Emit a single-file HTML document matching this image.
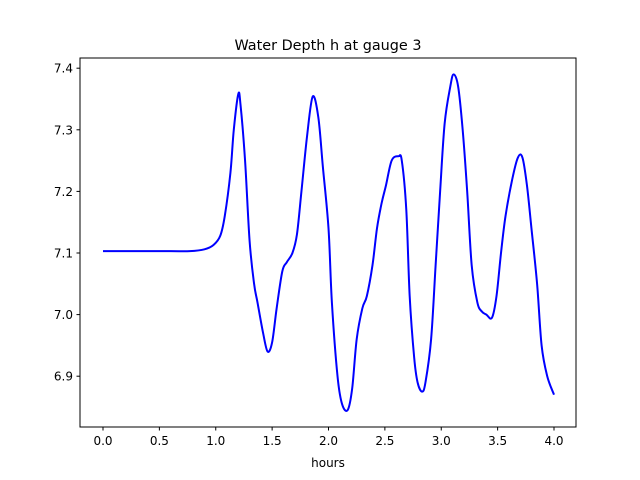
<!DOCTYPE html>
<html><head><meta charset="utf-8"><style>
body{margin:0;background:#fff}
svg{display:block;font-family:"DejaVu Sans","Liberation Sans",sans-serif}
</style></head><body>
<svg id="chart" width="640" height="480">
<rect width="640" height="480" fill="#fff"/>
<text x="328" y="50" text-anchor="middle" font-size="14.4">Water Depth h at gauge 3</text>
<g id="ticks"></g>
<path id="line" fill="none" stroke="#0000ff" stroke-width="2" stroke-linejoin="round"/>
<rect x="80" y="58" width="496" height="369" fill="none" stroke="#000" stroke-width="1"/>
<text x="328" y="467" text-anchor="middle" font-size="12">hours</text>
</svg>
<script>
const times=[0,0.3,0.6,0.77,0.9,0.98,1.04,1.08,1.13,1.16,1.20,1.22,1.26,1.30,1.34,1.37,1.42,1.46,1.50,1.54,1.59,1.63,1.68,1.72,1.76,1.81,1.86,1.91,1.95,2.0,2.03,2.08,2.12,2.17,2.21,2.25,2.30,2.34,2.39,2.43,2.47,2.51,2.56,2.62,2.65,2.69,2.72,2.76,2.79,2.83,2.86,2.91,2.95,2.99,3.03,3.08,3.11,3.15,3.19,3.23,3.27,3.32,3.36,3.40,3.45,3.49,3.53,3.57,3.63,3.68,3.72,3.76,3.80,3.85,3.89,3.94,4.0];
const depths=[7.103,7.103,7.103,7.103,7.106,7.113,7.128,7.16,7.23,7.30,7.358,7.34,7.25,7.12,7.05,7.02,6.97,6.94,6.955,7.01,7.07,7.085,7.10,7.13,7.20,7.29,7.354,7.32,7.24,7.14,7.02,6.90,6.855,6.845,6.88,6.96,7.01,7.03,7.08,7.14,7.18,7.21,7.25,7.257,7.25,7.17,7.03,6.93,6.89,6.875,6.89,6.96,7.08,7.20,7.31,7.37,7.39,7.37,7.30,7.20,7.08,7.02,7.005,7.0,6.995,7.03,7.10,7.16,7.22,7.255,7.255,7.21,7.14,7.05,6.95,6.90,6.87];
const xTicks=[0,0.5,1,1.5,2,2.5,3,3.5,4];
const yTicks=[6.9,7.0,7.1,7.2,7.3,7.4];
const xs=t=>103+112.75*t;
const ys=v=>253-616*(v-7.1);
const NS="http://www.w3.org/2000/svg";
const g=document.getElementById('ticks');
xTicks.forEach(t=>{
 const l=document.createElementNS(NS,'line');
 l.setAttribute('x1',xs(t));l.setAttribute('x2',xs(t));l.setAttribute('y1',427);l.setAttribute('y2',430.5);l.setAttribute('stroke','#000');
 
 
 g.appendChild(l);
 const s=document.createElementNS(NS,'text');
 s.setAttribute('x',xs(t));s.setAttribute('y',445);s.setAttribute('text-anchor','middle');s.setAttribute('font-size','12');
 s.textContent=t.toFixed(1);
 
 
 g.appendChild(s);
});
yTicks.forEach(v=>{
 const l=document.createElementNS(NS,'line');
 l.setAttribute('x1',76.5);l.setAttribute('x2',80);l.setAttribute('y1',ys(v));l.setAttribute('y2',ys(v));l.setAttribute('stroke','#000');
 
 
 g.appendChild(l);
 const s=document.createElementNS(NS,'text');
 s.setAttribute('x',73);s.setAttribute('y',ys(v)+4.5);s.setAttribute('text-anchor','end');s.setAttribute('font-size','12');
 s.textContent=v.toFixed(1);
 
 
 g.appendChild(s);
});
// smooth path via Catmull-Rom
const P=times.map((t,i)=>[xs(t),ys(depths[i])]);
let d='M'+P[0][0]+','+P[0][1];
for(let i=0;i<P.length-1;i++){
 const p0=P[Math.max(0,i-1)],p1=P[i],p2=P[i+1],p3=P[Math.min(P.length-1,i+2)];
 const c1=[p1[0]+(p2[0]-p0[0])/6,p1[1]+(p2[1]-p0[1])/6];
 const c2=[p2[0]-(p3[0]-p1[0])/6,p2[1]-(p3[1]-p1[1])/6];
 d+=' C'+c1+' '+c2+' '+p2;
}
document.getElementById('line').setAttribute('d',d);
</script>
</body></html>
